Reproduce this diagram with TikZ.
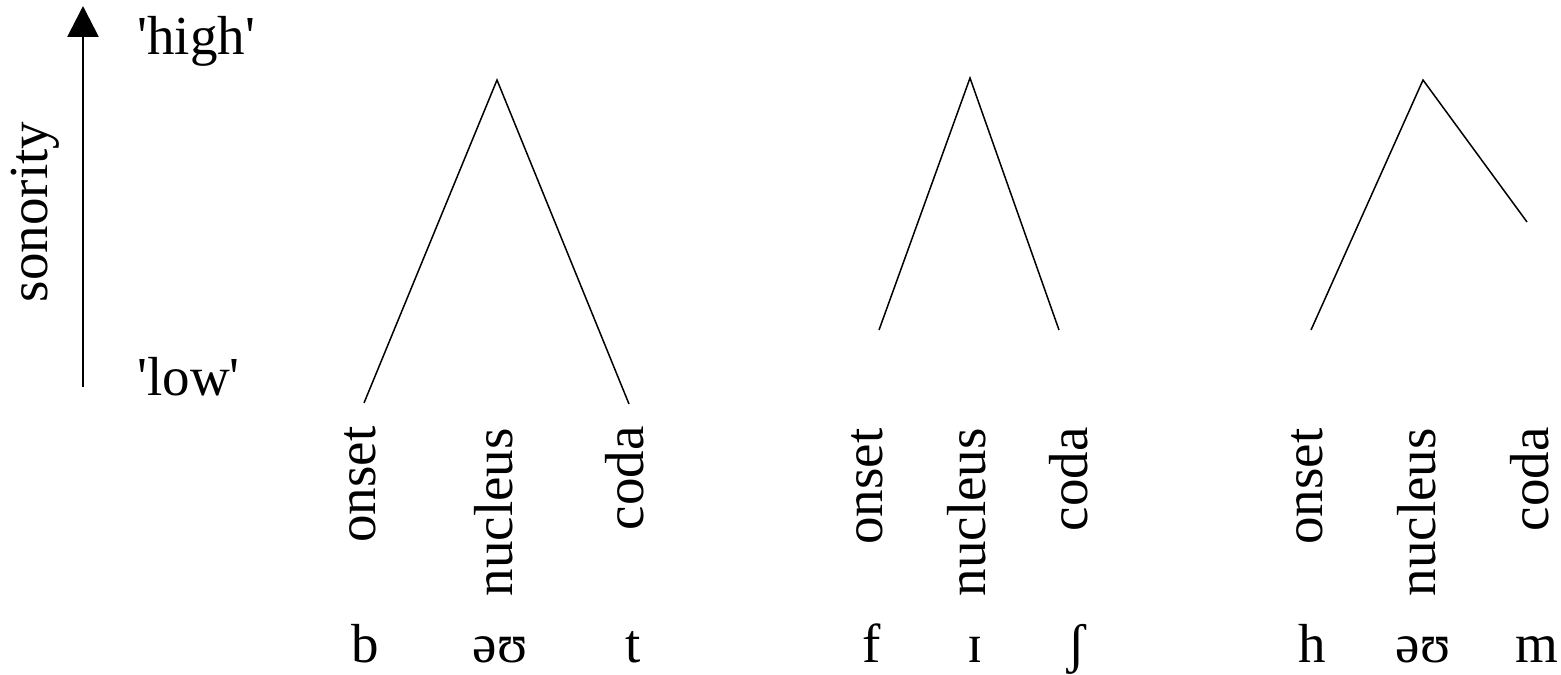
\documentclass[tikz,border=0pt]{standalone}
\usepackage{fontspec}
\setmainfont{Liberation Serif}
\newfontfamily\plainq{Liberation Serif}[Mapping={}]
\newcommand{\sq}{{\plainq\symbol{39}}}
\usetikzlibrary{arrows.meta}
\begin{document}
\begin{tikzpicture}[x=0.5pt,y=-0.5pt,
  txt/.style={inner sep=0pt,font=\fontsize{27.5}{33}\selectfont},
  vlab/.style={txt,rotate=90,anchor=base east},
  phon/.style={txt,anchor=base},
  peak/.style={line width=0.75pt,line join=miter},
  axis/.style={line width=1.4pt,-{Triangle[length=15.5pt,width=15.5pt]}}]
\useasboundingbox (0,0) rectangle (1561,674);
% axis
\coordinate (abot) at (83,387);
\coordinate (atop) at (83,6);
\draw[axis] (abot) -- (atop);
\node[txt,rotate=90,anchor=base] (son) at (47,212) {sonority};
\node[txt,anchor=base west] (high) at (137,55) {\sq high\sq};
\node[txt,anchor=base west] (low) at (137,395) {\sq low\sq};
% syllable 1
\coordinate (o1) at (364,403);
\coordinate (n1) at (497,80);
\coordinate (c1) at (629,404);
\draw[peak] (o1) -- (n1) -- (c1);
% syllable 2
\coordinate (o2) at (879,330);
\coordinate (n2) at (970,78);
\coordinate (c2) at (1059,330);
\draw[peak] (o2) -- (n2) -- (c2);
% syllable 3
\coordinate (o3) at (1311,330);
\coordinate (n3) at (1423,80);
\coordinate (c3) at (1527,222);
\draw[peak] (o3) -- (n3) -- (c3);
% labels
\node[vlab] (lo1) at (375,426) {onset};
\node[vlab] (ln1) at (512,428) {nucleus};
\node[vlab] (lc1) at (643,426) {coda};
\node[vlab] (lo2) at (882,428) {onset};
\node[vlab] (ln2) at (985,428) {nucleus};
\node[vlab] (lc2) at (1087,427) {coda};
\node[vlab] (lo3) at (1322,428) {onset};
\node[vlab] (ln3) at (1435,428) {nucleus};
\node[vlab] (lc3) at (1548,427) {coda};
% phonemes
\node[phon] (p1) at (365,662) {b};
\node[phon] (p2) at (500,662) {əʊ};
\node[phon] (p3) at (633,662) {t};
\node[phon] (p4) at (872,662) {f};
\node[phon] (p5) at (975,662) {ɪ};
\node[phon] (p6) at (1077,662) {ʃ};
\node[phon] (p7) at (1312,662) {h};
\node[phon] (p8) at (1423,662) {əʊ};
\node[phon] (p9) at (1537,662) {m};
\end{tikzpicture}
\end{document}
